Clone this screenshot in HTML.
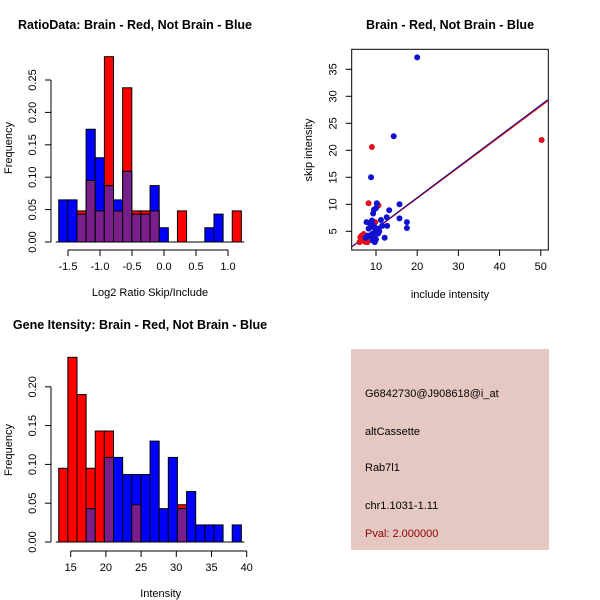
<!DOCTYPE html>
<html><head><meta charset="utf-8"><style>
body{margin:0;background:#fff}
svg{display:block;font-family:"Liberation Sans",sans-serif}
</style></head><body>
<svg id="c" width="600" height="600" viewBox="0 0 600 600">
<rect x="0" y="0" width="600" height="600" fill="#fff"/>
<text x="135" y="29" font-size="12.5" font-weight="bold" text-anchor="middle">RatioData: Brain - Red, Not Brain - Blue</text>
<text x="450" y="29" font-size="12.5" font-weight="bold" text-anchor="middle">Brain - Red, Not Brain - Blue</text>
<text x="140" y="329" font-size="12.5" font-weight="bold" text-anchor="middle">Gene Itensity: Brain - Red, Not Brain - Blue</text>
<g id="h1"></g>
<g id="h2"></g>
<g id="sc"></g>
<g>
<rect x="351" y="349" width="198" height="201" fill="#E6C8C2"/>
<text x="365" y="397" font-size="11">G6842730@J908618@i_at</text>
<text x="365" y="435" font-size="11">altCassette</text>
<text x="365" y="471" font-size="11">Rab7l1</text>
<text x="365" y="509" font-size="11">chr1.1031-1.11</text>
<text x="365" y="537" font-size="11" fill="#8B0000">Pval: 2.000000</text>
</g>
</svg>
<script>
const ratioRed=[0,0,0.048,0.095,0.048,0.286,0.048,0.238,0.048,0.048,0.048,0,0,0.048,0,0,0,0,0,0.048];
const ratioBlue=[0.065,0.065,0.043,0.174,0.13,0.087,0.065,0.109,0.043,0.043,0.087,0.022,0,0,0,0,0.022,0.043,0,0];
const ratioXTicks=[-1.5,-1.0,-0.5,0.0,0.5,1.0];
const ratioYTicks=[0,0.05,0.10,0.15,0.20,0.25];
const intRed=[0.095,0.238,0.19,0.095,0.143,0.143,0,0,0.048,0,0,0,0,0.048,0,0,0,0,0,0];
const intBlue=[0,0,0,0.043,0,0.109,0.109,0.087,0.087,0.087,0.13,0.043,0.109,0.043,0.065,0.022,0.022,0.022,0,0.022];
const intXTicks=[15,20,25,30,35,40];
const intYTicks=[0,0.05,0.10,0.15,0.20];
const blueX=[20,14.3,8.8,10.2,15.7,13.2,9.5,10,12.6,15.7,17.5,17.5,11.2,12.7,12.1,9.3,7.7,8.5,9,9.5,10.5,11.5,8.2,9.8,10.5,9,8.5,9.5,10,9.2,9.7,8,7.5,10.8,8.8,9.8];
const blueY=[37.2,22.6,15,10.2,10,8.9,9,9.3,7.6,7.4,6.7,5.6,7.1,6,3.8,8.3,6.7,6.5,7,6,5.5,6,5.5,5,4.6,4.5,4,3.9,3.5,3.3,3,4.2,3.8,5,5.8,4.3];
const redX=[9,50.2,8.2,10.6,9.8,6.5,7,6,6.5,7,7.5,7.9,6.8,6.2];
const redY=[20.6,21.9,10.2,9.8,6.7,4.2,4.5,3,3.5,3.2,3,3,3.8,3.9];
const fitRed=[-0.25,0.568];
const fitBlue=[-0.2,0.572];
const scXTicks=[10,20,30,40,50];
const scYTicks=[5,10,15,20,25,30,35];
const NS='http://www.w3.org/2000/svg';
function mk(p,t,a){const e=document.createElementNS(NS,t);for(const k in a)e.setAttribute(k,a[k]);p.appendChild(e);return e;}
function hist(g,red,blue,x0,bw,xs,ys,xt,yt,yAxisY,xlab,ylabY,fmtX,fmtY){
  for(let i=0;i<red.length;i++){
    const l=xs(x0+i*bw),r=xs(x0+(i+1)*bw);
    const layers=[[red[i],'#FF0000'],[blue[i],'#0000FF'],[Math.min(red[i],blue[i]),'#7A1E8C']];
    for(const [v,c] of layers){ if(v<=0)continue;
      const b=mk(g,'rect',{x:l,y:ys(v),width:r-l,height:ys(0)-ys(v),fill:c,stroke:'#000','stroke-width':1});
      
      
    }
  }
  mk(g,'line',{x1:xs(x0)-3,x2:xs(x0+red.length*bw)+3,y1:ys(0),y2:ys(0),stroke:'#000'});
  const ax=51;
  mk(g,'line',{x1:ax,x2:ax,y1:ys(yt[0]),y2:ys(yt[yt.length-1]),stroke:'#000'});
  yt.forEach(v=>{mk(g,'line',{x1:ax-6,x2:ax,y1:ys(v),y2:ys(v),stroke:'#000'});
    const t=mk(g,'text',{x:ax-15,y:ys(v),'font-size':11,'text-anchor':'middle',transform:`rotate(-90 ${ax-15} ${ys(v)})`});t.textContent=fmtY(v);});
  mk(g,'line',{x1:xs(xt[0]),x2:xs(xt[xt.length-1]),y1:yAxisY,y2:yAxisY,stroke:'#000'});
  xt.forEach(v=>{mk(g,'line',{x1:xs(v),x2:xs(v),y1:yAxisY,y2:yAxisY+6,stroke:'#000'});
    const t=mk(g,'text',{x:xs(v),y:yAxisY+20,'font-size':11,'text-anchor':'middle'});t.textContent=fmtX(v);});
  const xl=mk(g,'text',{x:(xs(xt[0])+xs(xt[xt.length-1]))/2+2,y:yAxisY+46,'font-size':11,'text-anchor':'middle'});xl.textContent=xlab;
  const yl=mk(g,'text',{x:12,y:ylabY,'font-size':11,'text-anchor':'middle',transform:`rotate(-90 12 ${ylabY})`});yl.textContent='Frequency';
}
{const g=document.getElementById('h1');
 const xs=v=>68+(v+1.5)*64, ys=v=>242-v*648;
 hist(g,ratioRed,ratioBlue,-1.645,0.1427,xs,ys,ratioXTicks,ratioYTicks,250,'Log2 Ratio Skip/Include',148,v=>v.toFixed(1),v=>v.toFixed(2));}
{const g=document.getElementById('h2');
 const xs=v=>70.7+(v-15)*7.04, ys=v=>542-v*776;
 hist(g,intRed,intBlue,13.3,1.297,xs,ys,intXTicks,intYTicks,551,'Intensity',450,v=>String(v),v=>v.toFixed(2));}
{const g=document.getElementById('sc');
 const xs=v=>376+(v-10)*4.12, ys=v=>231.3-(v-5)*5.4;
 const L=351.7,R=548.3,T=49.3,B=250;
 mk(g,'rect',{x:L,y:T,width:R-L,height:B-T,fill:'none',stroke:'#000'});
 scXTicks.forEach(v=>{mk(g,'line',{x1:xs(v),x2:xs(v),y1:B,y2:B+6,stroke:'#000'});
   const t=mk(g,'text',{x:xs(v),y:B+20,'font-size':11,'text-anchor':'middle'});t.textContent=v;});
 scYTicks.forEach(v=>{mk(g,'line',{x1:L-6,x2:L,y1:ys(v),y2:ys(v),stroke:'#000'});
   const t=mk(g,'text',{x:L-15,y:ys(v),'font-size':11,'text-anchor':'middle',transform:`rotate(-90 ${L-15} ${ys(v)})`});t.textContent=v;});
 const xl=mk(g,'text',{x:450,y:298,'font-size':11,'text-anchor':'middle'});xl.textContent='include intensity';
 const yl=mk(g,'text',{x:312,y:150,'font-size':11,'text-anchor':'middle',transform:'rotate(-90 312 150)'});yl.textContent='skip intensity';
 const x1=4.17,x2=51.7;
 [[fitRed,'#FF0000'],[fitBlue,'#00008B']].forEach(([f,c])=>{
   const ln=mk(g,'line',{x1:xs(x1),x2:xs(x2),y1:ys(f[0]+f[1]*x1),y2:ys(f[0]+f[1]*x2),stroke:c,'stroke-width':1});
   
   });
 redX.forEach((v,i)=>{const p=mk(g,'circle',{cx:xs(v),cy:ys(redY[i]),r:3,fill:'#E0101C'});
   
   });
 blueX.forEach((v,i)=>{const p=mk(g,'circle',{cx:xs(v),cy:ys(blueY[i]),r:3,fill:'#1010D0'});
   
   });
}
</script>
</body></html>
